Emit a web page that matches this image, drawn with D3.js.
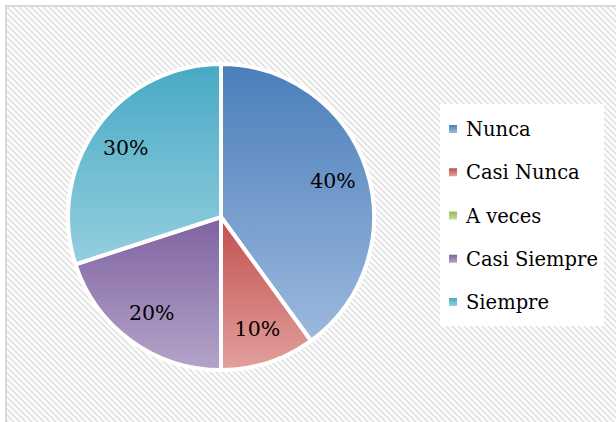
<!DOCTYPE html>
<html>
<head>
<meta charset="utf-8">
<script src="https://cdn.jsdelivr.net/npm/d3@7"></script>
<style>
  html, body { margin: 0; padding: 0; background: #fff; }
  svg { display: block; }
</style>
</head>
<body>
<svg id="chart" width="616" height="422"></svg>
<script>
// Survey answer categories and their shares (percent)
const categories = ["Nunca", "Casi Nunca", "A veces", "Casi Siempre", "Siempre"];
const values = [40, 10, 0, 20, 30];
// Base colours: darker shade at the top of each slice, lighter tint at the bottom
const topColors = ["#4a7ebb", "#c0504d", "#9bbb59", "#7f62a1", "#47a9c4"];
const bottomColors = ["#9db9dd", "#e3a09e", "#c6d9a0", "#b4a4c9", "#95cfdf"];

const W = 616, H = 422;
const svg = d3.select("#chart");
const defs = svg.append("defs");

// Diagonal hatched chart-area background
const pat = defs.append("pattern")
  .attr("id", "hatch")
  .attr("patternUnits", "userSpaceOnUse")
  .attr("width", 6).attr("height", 6);
pat.append("rect").attr("width", 6).attr("height", 6).attr("fill", "#ffffff");
pat.append("path")
  .attr("d", "M-1,5 L1,7 M0,0 L6,6 M5,-1 L7,1")
  .attr("stroke", "#e5e5e5").attr("stroke-width", 2);

svg.append("rect").attr("width", W).attr("height", H).attr("fill", "#ffffff");
svg.append("rect")
  .attr("x", 6).attr("y", 6)
  .attr("width", W + 10).attr("height", H + 10)
  .attr("fill", "url(#hatch)")
  .attr("stroke", "#d9d9d9").attr("stroke-width", 2);

// Vertical gradient for each series
categories.forEach((c, i) => {
  const g = defs.append("linearGradient")
    .attr("id", "grad" + i)
    .attr("x1", 0).attr("y1", 0).attr("x2", 0).attr("y2", 1);
  g.append("stop").attr("offset", "0%").attr("stop-color", topColors[i]);
  g.append("stop").attr("offset", "100%").attr("stop-color", bottomColors[i]);
});

const cx = 221, cy = 217, radius = 153;

const data = categories.map((c, i) => ({ name: c, value: values[i], idx: i }));
const pie = d3.pie().value(d => d.value).sort(null);
const arcs = pie(data);

const arc = d3.arc().innerRadius(0).outerRadius(radius);
const labelArc = d3.arc().innerRadius(radius * 0.77).outerRadius(radius * 0.77);

const gPie = svg.append("g").attr("transform", `translate(${cx},${cy})`);

gPie.selectAll("path.slice")
  .data(arcs.filter(d => d.data.value > 0))
  .join("path")
  .attr("class", "slice")
  .attr("d", arc)
  .attr("fill", d => `url(#grad${d.data.idx})`)
  .attr("stroke", "#ffffff")
  .attr("stroke-width", 4)
  .attr("stroke-linejoin", "round");

const total = d3.sum(values);
gPie.selectAll("text.lbl")
  .data(arcs.filter(d => d.data.value > 0))
  .join("text")
  .attr("class", "lbl")
  .attr("transform", d => `translate(${labelArc.centroid(d)})`)
  .attr("text-anchor", "middle")
  .attr("dy", "0.36em")
  .attr("font-family", "'DejaVu Serif', serif")
  .attr("font-size", 20.5)
  .attr("fill", "#000")
  .text(d => d3.format(".0%")(d.data.value / total));

// Legend
const legX = 440, legY = 104;
svg.append("rect")
  .attr("x", legX).attr("y", legY)
  .attr("width", 164).attr("height", 222)
  .attr("fill", "#ffffff");

const yLeg = d3.scalePoint()
  .domain(categories)
  .range([legY + 25, legY + 198]);

const items = svg.append("g").selectAll("g")
  .data(data)
  .join("g")
  .attr("transform", d => `translate(${legX + 9},${yLeg(d.name)})`);

items.append("rect")
  .attr("x", 0).attr("y", -4)
  .attr("width", 8).attr("height", 8)
  .attr("fill", d => `url(#grad${d.idx})`);

items.append("text")
  .attr("x", 17)
  .attr("dy", "0.36em")
  .attr("font-family", "'DejaVu Serif', serif")
  .attr("font-size", 19.5)
  .attr("fill", "#000")
  .text(d => d.name);
</script>
</body>
</html>
